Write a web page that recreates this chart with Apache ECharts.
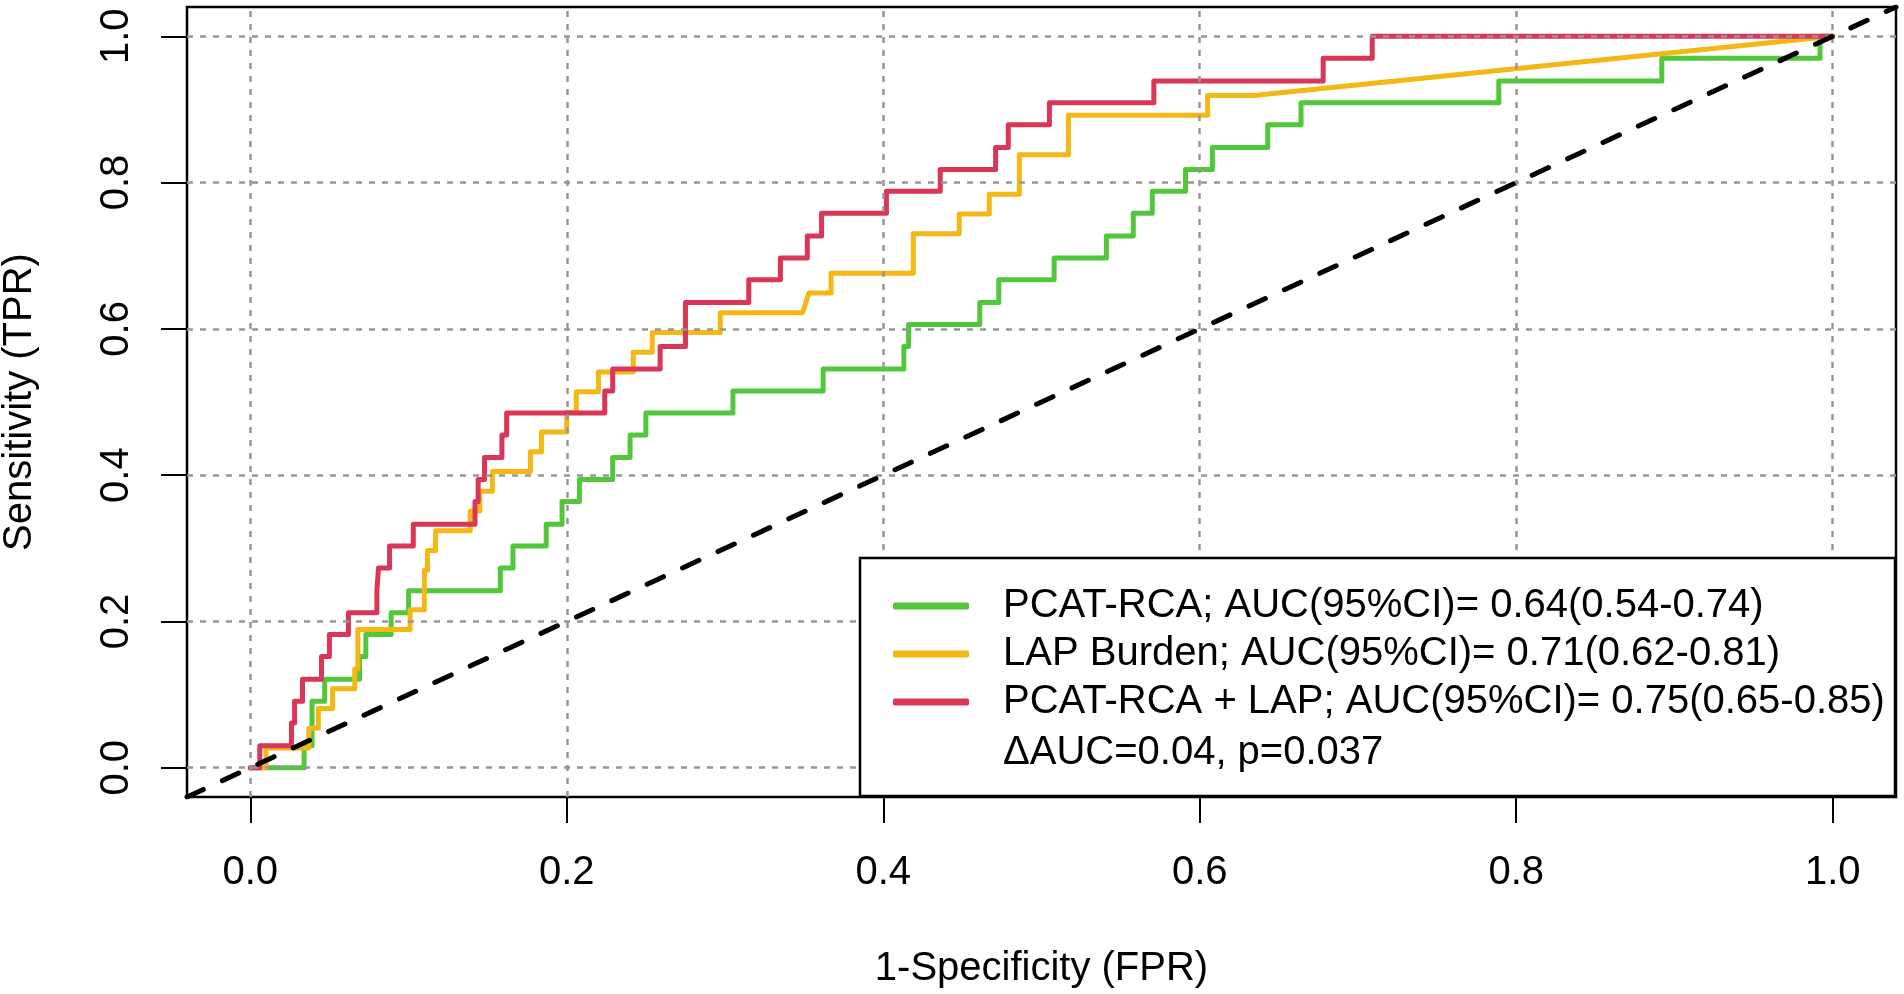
<!DOCTYPE html>
<html>
<head>
<meta charset="utf-8">
<script src="https://cdn.jsdelivr.net/npm/echarts@6/dist/echarts.min.js"></script>
<style>html,body{margin:0;padding:0;background:#fff}#c{width:1904px;height:994px}</style>
</head>
<body>
<div id="c"></div>
<script>
// ---- data ----
const axisTicks = [0, 0.2, 0.4, 0.6, 0.8, 1.0];
const axisMin = -0.04, axisMax = 1.04;
const xTitle = '1-Specificity (FPR)';
const yTitle = 'Sensitivity (TPR)';
const seriesNames = [
  'PCAT-RCA; AUC(95%CI)= 0.64(0.54-0.74)',
  'LAP Burden; AUC(95%CI)= 0.71(0.62-0.81)',
  'PCAT-RCA + LAP; AUC(95%CI)= 0.75(0.65-0.85)'
];
const noteText = '\u0394AUC=0.04, p=0.037';
const seriesColors = ['#52C73C', '#F3B815', '#D93658'];

const greenFPR = [0, 0.034,0.034, 0.039,0.039, 0.047,0.047, 0.069,0.069, 0.073,0.073, 0.089,0.089, 0.100,0.100, 0.158,0.158, 0.166,0.166, 0.187,0.187, 0.197,0.197, 0.208,0.208, 0.229,0.229, 0.240,0.240, 0.250,0.250, 0.305,0.305, 0.362,0.362, 0.413,0.413, 0.416,0.416, 0.461,0.461, 0.473,0.473, 0.508,0.508, 0.541,0.541, 0.558,0.558, 0.570,0.570, 0.591,0.591, 0.608,0.608, 0.643,0.643, 0.664,0.664, 0.789,0.789, 0.892,0.892, 0.992,0.992, 1];
const greenTPR = [0, 0,0.030, 0.030,0.091, 0.091,0.121, 0.121,0.152, 0.152,0.182, 0.182,0.212, 0.212,0.242, 0.242,0.273, 0.273,0.303, 0.303,0.333, 0.333,0.364, 0.364,0.394, 0.394,0.424, 0.424,0.455, 0.455,0.485, 0.485,0.515, 0.515,0.545, 0.545,0.576, 0.576,0.606, 0.606,0.636, 0.636,0.667, 0.667,0.697, 0.697,0.727, 0.727,0.758, 0.758,0.788, 0.788,0.818, 0.818,0.848, 0.848,0.879, 0.879,0.909, 0.909,0.939, 0.939,0.970, 0.970,1, 1];

const yellowFPR = [0, 0.010,0.010, 0.037,0.037, 0.043,0.043, 0.052,0.052, 0.066,0.066, 0.068,0.068, 0.101,0.101, 0.110,0.110, 0.112,0.112, 0.117,0.117, 0.139,0.139, 0.145,0.145, 0.153,0.153, 0.177,0.177, 0.184,0.184, 0.200,0.200, 0.206,0.206, 0.220,0.220, 0.242,0.242, 0.254,0.254, 0.297,0.297, 0.349,0.353, 0.367,0.367, 0.419,0.419, 0.448,0.448, 0.467,0.467, 0.486,0.486, 0.517,0.517, 0.605,0.605, 0.634, 1];
const yellowTPR = [0, 0,0.027, 0.027,0.054, 0.054,0.081, 0.081,0.108, 0.108,0.135, 0.135,0.189, 0.189,0.216, 0.216,0.270, 0.270,0.297, 0.297,0.324, 0.324,0.351, 0.351,0.378, 0.378,0.405, 0.405,0.432, 0.432,0.459, 0.459,0.486, 0.486,0.514, 0.514,0.541, 0.541,0.568, 0.568,0.595, 0.595,0.622, 0.622,0.649, 0.649,0.676, 0.676,0.730, 0.730,0.757, 0.757,0.784, 0.784,0.838, 0.838,0.892, 0.892,0.919, 0.919, 1];

const redFPR = [0, 0.006,0.006, 0.026,0.026, 0.028,0.028, 0.033,0.033, 0.045,0.045, 0.050,0.050, 0.062,0.062, 0.080,0.080, 0.081,0.081, 0.088,0.088, 0.103,0.103, 0.142,0.142, 0.144,0.144, 0.148,0.148, 0.159,0.159, 0.162,0.162, 0.224,0.224, 0.229,0.229, 0.259,0.259, 0.275,0.275, 0.315,0.315, 0.335,0.335, 0.352,0.352, 0.361,0.361, 0.402,0.402, 0.436,0.436, 0.471,0.471, 0.479,0.479, 0.505,0.505, 0.571,0.571, 0.678,0.678, 0.709,0.709, 1];
const redTPR = [0, 0,0.030, 0.030,0.061, 0.061,0.091, 0.091,0.121, 0.121,0.152, 0.152,0.182, 0.182,0.212, 0.212,0.242, 0.242,0.273, 0.273,0.303, 0.303,0.333, 0.333,0.364, 0.364,0.394, 0.394,0.424, 0.424,0.455, 0.455,0.485, 0.485,0.515, 0.515,0.545, 0.545,0.576, 0.576,0.636, 0.636,0.667, 0.667,0.697, 0.697,0.727, 0.727,0.758, 0.758,0.788, 0.788,0.818, 0.818,0.848, 0.848,0.879, 0.879,0.909, 0.909,0.939, 0.939,0.970, 0.970,1, 1];

const refLine = [axisMin, axisMax];

// ---- chart ----
const FONT = '"Liberation Sans", Arial, Helvetica, sans-serif';
const FS = 40;
function pts(fx, ty) { return fx.map((x, i) => [x, ty[i]]); }
const curves = [pts(greenFPR, greenTPR), pts(yellowFPR, yellowTPR), pts(redFPR, redTPR)];

const chart = echarts.init(document.getElementById('c'), null, {renderer: 'canvas', width: 1904, height: 994});

const curveSeries = curves.map((d, i) => ({
  type: 'line', name: seriesNames[i], data: d, showSymbol: false, symbol: 'none',
  color: seriesColors[i], itemStyle: {color: seriesColors[i]},
  lineStyle: {color: seriesColors[i], width: 5, join: 'round', cap: 'round'},
  z: 2 + i, silent: true, clip: true
}));

const option = {
  animation: false,
  backgroundColor: '#ffffff',
  textStyle: {fontFamily: FONT},
  grid: {left: 187, top: 7, width: 1709, height: 790, show: true, borderColor: '#000', borderWidth: 2.5,
    backgroundColor: 'transparent', containLabel: false, outerBoundsMode: 'none'},
  xAxis: {
    type: 'value', min: axisMin, max: axisMax,
    name: xTitle, nameLocation: 'middle', nameGap: 152,
    nameTextStyle: {fontSize: FS, color: '#000', fontFamily: FONT},
    axisLine: {show: false, onZero: false}, splitLine: {show: false},
    axisTick: {show: true, customValues: axisTicks, length: 26, inside: false, lineStyle: {color: '#000', width: 2}},
    axisLabel: {show: true, customValues: axisTicks, formatter: v => v.toFixed(1), fontSize: FS, color: '#000', margin: 56, fontFamily: FONT}
  },
  yAxis: {
    type: 'value', min: axisMin, max: axisMax,
    name: yTitle, nameLocation: 'middle', nameGap: 147, nameRotate: 90,
    nameTextStyle: {fontSize: FS, color: '#000', fontFamily: FONT},
    axisLine: {show: false, onZero: false}, splitLine: {show: false},
    axisTick: {show: true, customValues: axisTicks, length: 26, inside: false, lineStyle: {color: '#000', width: 2}},
    axisLabel: {show: true, customValues: axisTicks, formatter: v => v.toFixed(1), rotate: 90, fontSize: FS, color: '#000', margin: 50, fontFamily: FONT}
  },
  legend: {
    show: true, orient: 'vertical', left: 893, top: 586, padding: 0,
    itemWidth: 76, itemHeight: 7, itemGap: 8, icon: 'roundRect', z: 8, selectedMode: false,
    data: seriesNames,
    formatter: name => '{p| }' + name,
    textStyle: {fontSize: FS, color: '#000', lineHeight: 40, fontFamily: FONT,
      rich: {p: {width: 29, fontSize: FS, lineHeight: 40}}}
  },
  graphic: [
    {type: 'rect', z: 6, shape: {x: 860, y: 558, width: 1035, height: 238},
      style: {fill: '#fff', stroke: '#000', lineWidth: 2.5}},
    {type: 'text', z: 8, x: 1003, y: 753,
      style: {text: noteText, font: FS + 'px ' + FONT, fill: '#000', verticalAlign: 'middle', align: 'left'}}
  ],
  series: [
    {type: 'line', name: '_grid', data: [], silent: true, z: 1,
      markLine: {silent: true, symbol: 'none', animation: false, label: {show: false},
        lineStyle: {color: '#969696', width: 2.5, type: [6, 7]},
        data: axisTicks.map(v => ({xAxis: v})).concat(axisTicks.map(v => ({yAxis: v})))}},
    ...curveSeries,
    {type: 'line', name: '_ref', data: refLine.map(v => [v, v]), showSymbol: false, symbol: 'none',
      lineStyle: {color: '#000', width: 5, type: [18, 21], cap: 'round'}, z: 5, silent: true}
  ]
};
chart.setOption(option);
</script>
</body>
</html>
